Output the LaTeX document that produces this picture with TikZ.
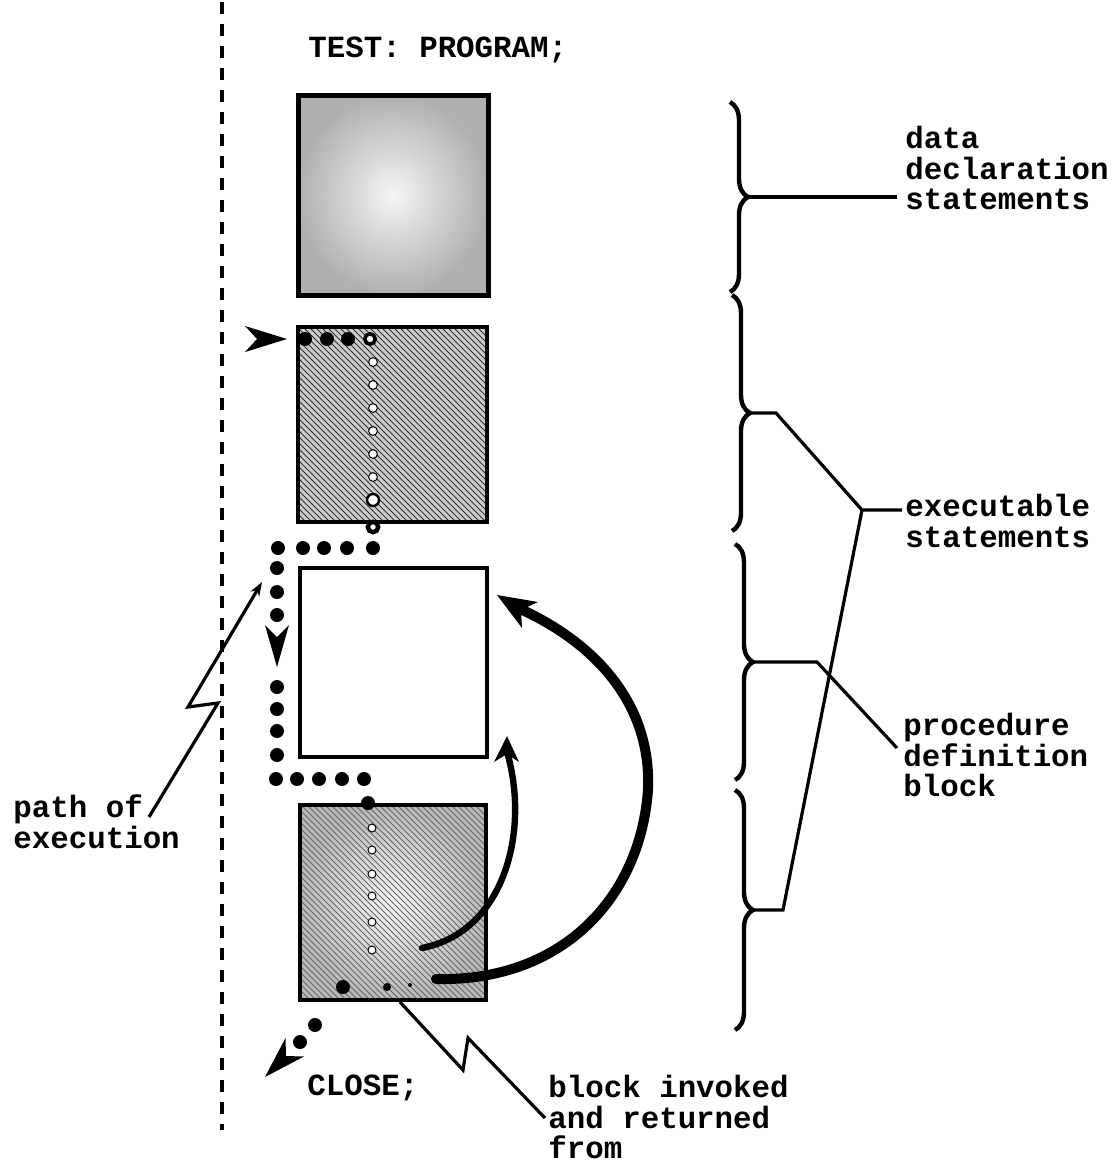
\documentclass[tikz,border=0pt]{standalone}
\usepackage{fontspec}
\setmonofont{Liberation Mono}
\usetikzlibrary{patterns,decorations.pathreplacing,arrows.meta}
\begin{document}
\begin{tikzpicture}[x=0.5pt,y=-0.5pt,
  lbl/.style={font=\ttfamily\bfseries\fontsize{15.4pt}{15.3pt}\selectfont, align=left, inner sep=0pt, anchor=west},
  box/.style={draw=black, line width=2pt, inner sep=0pt, outer sep=0pt},
  divider/.style={line width=2pt, dash pattern=on 6pt off 5pt},
  bracestyle/.style={decorate, decoration={brace, amplitude=9pt}, line width=2.2pt},
  leader/.style={line width=1.6pt, line join=miter},
  faint/.style={fill=white, draw=black, line width=0.5pt},
]
\useasboundingbox (0,0) rectangle (1118,1164);

% dashed divider
\coordinate (dtop) at (222,2);
\coordinate (dbot) at (222,1130);
\draw[divider] (dtop) -- (dbot);

% blocks
\node[box, line width=2.5pt, minimum width=95pt, minimum height=100pt,
      inner color=gray!8, outer color=gray!62] (b1) at (393,195) {};
\node[box, minimum width=94.5pt, minimum height=97.5pt,
      preaction={fill=gray!40}, pattern=north west lines, pattern color=black!80] (b2) at (392.5,424.5) {};
\node[box, line width=1.6pt, fill=white, minimum width=93.5pt, minimum height=94.5pt] (b3) at (393.5,662.5) {};
\node[box, minimum width=93pt, minimum height=97.5pt,
      preaction={inner color=gray!5, outer color=gray!55},
      pattern=north west lines, pattern color=gray!80!black] (b4) at (393,902.5) {};

% texts
\node[lbl] (test) at (308,50) {TEST: PROGRAM;};
\node[lbl] (dds) at (905,168) {data\\declaration\\statements};
\node[lbl] (exs) at (905,521) {executable\\statements};
\node[lbl] (pdb) at (903,755) {procedure\\definition\\block};
\node[lbl] (poe) at (13,822) {path of\\execution};
\node[lbl] (close) at (307,1088) {CLOSE;};
\node[lbl] (bir) at (548,1117) {block invoked\\and returned\\from};

% braces
\coordinate (br1a) at (730,102); \coordinate (br1b) at (730,292);
\coordinate (br2a) at (732,295); \coordinate (br2b) at (732,531);
\coordinate (br3a) at (735,544); \coordinate (br3b) at (735,780);
\coordinate (br4a) at (735,790); \coordinate (br4b) at (735,1030);
\draw[bracestyle] (br1a) -- (br1b);
\draw[bracestyle] (br2a) -- (br2b);
\draw[bracestyle] (br3a) -- (br3b);
\draw[bracestyle] (br4a) -- (br4b);

% brace leaders
\coordinate (t1) at (748,197);
\coordinate (t2) at (750,413);
\coordinate (t3) at (753,662);
\coordinate (t4) at (753,910);
\coordinate (jx) at (862,510);
\coordinate (e1) at (897,197);
\coordinate (e2) at (902,510);
\coordinate (e3) at (897,748);
\draw[leader] (t1) -- (e1);
\draw[leader] (t2) -- (776,413) -- (jx) -- (e2);
\draw[leader] (t3) -- (817,662) -- (e3);
\draw[leader] (t4) -- (783,910) -- (jx);

% path of execution leader
\coordinate (p0) at (149,817);
\coordinate (p3) at (262,582);
\draw[leader, -{Stealth[length=7pt,width=5pt]}] (p0) -- (218,703) -- (188,707) -- (p3);

% block invoked leader
\coordinate (q0) at (400,1002);
\coordinate (q3) at (545,1118);
\draw[leader] (q0) -- (463,1070) -- (468,1038) -- (q3);

% invocation arc (big)
\coordinate (a0) at (436,979);
\coordinate (a1) at (648,790);
\coordinate (a2) at (518,608);
\draw[line width=5pt, line cap=round] (a0) .. controls (560,982) and (640,900) .. (a1)
      .. controls (652,700) and (590,640) .. (a2);
\fill (497,595) -- (538,602) -- (521,610) -- (522,628) -- cycle;

% return arc (small)
\coordinate (r0) at (422,948);
\coordinate (r1) at (507,752);
\draw[line width=3.2pt, line cap=round] (r0) .. controls (505,932) and (530,830) .. (r1);
\fill (507,736) -- (519,762) -- (507,754) -- (494,762) -- cycle;

% execution path dots
\foreach \p in {(305,339),(327,339),(348,339),
  (278,548),(303,548),(324,548),(347,548),(373,548),
  (277,568),(277,592),(277,615),
  (277,687),(277,709),(277,731),(277,755),
  (276,779),(297,779),(319,779),(342,779),(364,779),
  (368,803),(343,987),(315,1025),(300,1042)}
  \fill \p circle (3.5pt);
\fill (387,987) circle (2pt);
\fill (410,985) circle (1pt);
\filldraw[fill=white, draw=black, line width=1.8pt] (370,339) circle (2.6pt);
\filldraw[fill=white, draw=black, line width=1.2pt] (373,500) circle (3pt);
\filldraw[fill=white, draw=black, line width=2.2pt] (373,527) circle (2.6pt);
\foreach \yy in {362,385,408,431,454,477}
  \filldraw[faint] (373,\yy) circle (2.2pt);
\foreach \yy in {828,850,874,896,922,950}
  \filldraw[faint] (372,\yy) circle (2pt);

% arrowheads on the path
\fill (287,339) -- (245,326) -- (257,339) -- (245,352) -- cycle;
\fill (277,667) -- (265,625) -- (277,637) -- (289,625) -- cycle;
\fill (265,1077) -- (285.5,1038) -- (286,1056) -- (304,1056.5) -- cycle;
\end{tikzpicture}
\end{document}
